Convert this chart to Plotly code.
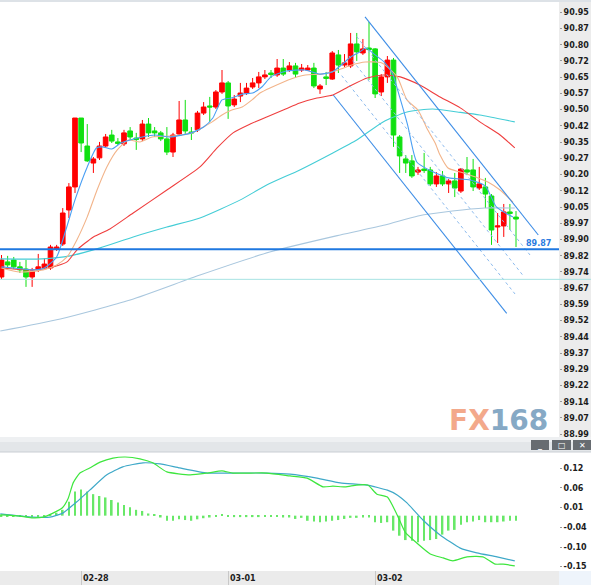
import plotly.graph_objects as go

W, H = 591, 585

# hourly candles, 02-27 11:00 .. 03-02 23:00 (index = hour number)
CANDLE_IDX = list(range(85))

OPEN = [
    89.721, 89.791, 89.800, 89.768, 89.758, 89.721, 89.754, 89.763, 89.763, 89.851,
    89.874, 90.032, 90.139, 90.459, 90.329, 90.250, 90.274, 90.329, 90.380, 90.348,
    90.339, 90.399, 90.366, 90.362, 90.431, 90.399, 90.390, 90.362, 90.301, 90.385,
    90.450, 90.394, 90.404, 90.482, 90.515, 90.510, 90.580, 90.622, 90.520, 90.561,
    90.575, 90.603, 90.622, 90.650, 90.668, 90.659, 90.691, 90.682, 90.701, 90.682,
    90.682, 90.691, 90.594, 90.650, 90.640, 90.752, 90.705, 90.701, 90.803, 90.761,
    90.784, 90.780, 90.580, 90.650, 90.728, 90.371, 90.269, 90.260, 90.208, 90.222,
    90.218, 90.153, 90.190, 90.153, 90.167, 90.120, 90.218, 90.218, 90.134, 90.139,
    90.097, 89.953, 89.958, 90.023, 89.999,
]
HIGH = [
    89.823, 89.819, 89.814, 89.791, 89.800, 89.763, 89.828, 89.809, 89.870, 89.870,
    90.041, 90.157, 90.459, 90.459, 90.431, 90.278, 90.348, 90.385, 90.404, 90.366,
    90.404, 90.417, 90.390, 90.450, 90.459, 90.417, 90.399, 90.417, 90.390, 90.538,
    90.543, 90.417, 90.492, 90.533, 90.557, 90.589, 90.682, 90.631, 90.566, 90.622,
    90.622, 90.645, 90.673, 90.682, 90.682, 90.733, 90.733, 90.719, 90.715, 90.710,
    90.705, 90.715, 90.617, 90.673, 90.770, 90.775, 90.756, 90.854, 90.854, 90.826,
    90.905, 90.784, 90.663, 90.747, 90.738, 90.380, 90.287, 90.287, 90.232, 90.297,
    90.232, 90.208, 90.213, 90.176, 90.204, 90.227, 90.278, 90.269, 90.232, 90.181,
    90.106, 90.018, 90.060, 90.060, 90.027,
]
LOW = [
    89.712, 89.763, 89.758, 89.740, 89.675, 89.675, 89.744, 89.754, 89.754, 89.842,
    89.865, 89.995, 90.111, 90.301, 90.255, 90.204, 90.264, 90.320, 90.343, 90.334,
    90.329, 90.357, 90.311, 90.352, 90.371, 90.371, 90.352, 90.287, 90.278, 90.376,
    90.380, 90.357, 90.394, 90.473, 90.441, 90.501, 90.571, 90.455, 90.510, 90.533,
    90.566, 90.594, 90.598, 90.640, 90.645, 90.650, 90.654, 90.673, 90.645, 90.673,
    90.677, 90.598, 90.571, 90.612, 90.636, 90.668, 90.696, 90.691, 90.724, 90.752,
    90.636, 90.552, 90.561, 90.622, 90.325, 90.204, 90.204, 90.181, 90.195, 90.204,
    90.143, 90.139, 90.143, 90.111, 90.092, 90.111, 90.195, 90.120, 90.125, 90.041,
    89.870, 89.879, 89.907, 89.939, 89.860,
]
CLOSE = [
    89.800, 89.777, 89.768, 89.754, 89.721, 89.749, 89.768, 89.781, 89.860, 89.860,
    90.018, 90.139, 90.459, 90.343, 90.260, 90.269, 90.329, 90.371, 90.352, 90.341,
    90.390, 90.371, 90.359, 90.431, 90.390, 90.390, 90.362, 90.301, 90.380, 90.450,
    90.399, 90.390, 90.482, 90.510, 90.510, 90.580, 90.622, 90.515, 90.547, 90.575,
    90.598, 90.622, 90.650, 90.659, 90.661, 90.691, 90.663, 90.701, 90.663, 90.691,
    90.691, 90.608, 90.608, 90.643, 90.761, 90.705, 90.715, 90.803, 90.766, 90.780,
    90.777, 90.571, 90.650, 90.728, 90.380, 90.283, 90.250, 90.190, 90.218, 90.215,
    90.153, 90.190, 90.153, 90.167, 90.134, 90.222, 90.208, 90.139, 90.153, 90.106,
    89.939, 89.958, 90.023, 90.016, 89.990,
]

# moving averages (hour index, price)
MA_FAST_X = [0, 2, 5, 7, 9, 10.5, 12, 14, 15.5, 16.5, 18, 19.5, 21, 23, 25, 27.5, 29.5, 31,
             33, 34.5, 36, 37.5, 39.5, 41, 42.5, 44, 46.5, 49.5, 52, 54, 55.5, 57, 58.5,
             59.5, 61, 62.5, 63.8, 65, 66.3, 67.8, 69.8, 73, 76.5, 79, 80.8, 83.5]
MA_FAST_Y = [89.768, 89.763, 89.754, 89.763, 89.814, 89.939, 90.079, 90.232, 90.320, 90.325,
             90.315, 90.343, 90.357, 90.371, 90.380, 90.371, 90.380, 90.390, 90.417, 90.459,
             90.543, 90.552, 90.571, 90.575, 90.603, 90.650, 90.677, 90.682, 90.663, 90.673,
             90.705, 90.742, 90.766, 90.784, 90.752, 90.719, 90.668, 90.557, 90.427, 90.255,
             90.218, 90.181, 90.171, 90.143, 90.046, 89.999]

MA_MID_X = [0, 3, 6.8, 9, 10.7, 12.3, 14, 15.6, 17.2, 18.9, 20.7, 22.6, 24.6, 28.3, 31.1,
            32.7, 34.4, 36, 37.6, 39.3, 40.9, 42.2, 44.2, 46.8, 49.6, 52.3, 55, 57.2, 59.4,
            62.1, 64.6, 66.2, 68, 69.6, 70.8, 71.6, 72.9, 74.9, 77.8, 79.4, 81.4, 83.5]
MA_MID_Y = [89.763, 89.744, 89.754, 89.777, 89.814, 89.893, 90.000, 90.125, 90.232, 90.311,
            90.357, 90.348, 90.371, 90.376, 90.390, 90.413, 90.441, 90.473, 90.496, 90.510,
            90.543, 90.575, 90.603, 90.636, 90.659, 90.663, 90.682, 90.705, 90.719, 90.715,
            90.650, 90.543, 90.496, 90.403, 90.343, 90.287, 90.227, 90.208, 90.181, 90.162,
            90.125, 90.069]

MA_SLOW_X = [-0.2, 4.7, 7.9, 10.7, 12.3, 15, 17.7, 21.5, 27, 32.4, 35.2, 37.8, 40.6, 43.3,
             46, 48.7, 51.5, 54.1, 56.9, 59.7, 62.3, 65.1, 68.3, 71.6, 74.9, 78.1, 81.4, 83.8]
MA_SLOW_Y = [89.763, 89.754, 89.763, 89.791, 89.846, 89.907, 89.944, 90.018, 90.125, 90.232,
             90.320, 90.390, 90.431, 90.464, 90.496, 90.529, 90.552, 90.566, 90.608, 90.645,
             90.659, 90.650, 90.612, 90.557, 90.506, 90.441, 90.380, 90.320]

MA_60_X = [-0.2, 6.6, 11.2, 16.1, 21.5, 27, 32.4, 39, 43.3, 48.7, 54.1, 58, 62.3, 66.2,
           70.4, 74.4, 78.1, 83.8]
MA_60_Y = [89.805, 89.805, 89.819, 89.856, 89.907, 89.953, 89.995, 90.079, 90.148, 90.218,
           90.297, 90.357, 90.441, 90.487, 90.501, 90.487, 90.473, 90.441]

MA_200_X = [-0.2, 9.6, 21, 32.4, 43.8, 55.3, 62.6, 68, 73.6, 78.9, 83.8]
MA_200_Y = [89.470, 89.526, 89.614, 89.730, 89.837, 89.916, 89.962, 90.004, 90.027, 90.041,
            90.041]

# horizontal levels
LEVEL_BLUE = 89.85
LEVEL_BLUE_TEXT = "89.87"
LEVEL_CYAN = 89.71

# descending channel: (x0, y0, x1, y1), outer lines solid, inner dotted
CHANNEL_SOLID = [
    (59.35, 90.929, 87.64, 89.916),
    (54.17, 90.566, 82.48, 89.552),
]
CHANNEL_DOTTED = [
    (57.99, 90.837, 86.29, 89.823),
    (56.73, 90.747, 85.09, 89.730),
    (55.54, 90.656, 83.84, 89.642),
]

# MACD panel
MACD_X = [-0.2, 3, 5.1, 6.8, 8.4, 9.9, 10.9, 11.7, 12.8, 14.4, 16.1, 18.2, 20.2, 22.6, 24.7,
          27, 30.8, 33.6, 36, 37.8, 43.3, 47.1, 49.9, 52.5, 54.1, 56.1, 58, 59.8, 61.3, 63,
          64.6, 65.9, 67.8, 70, 72.1, 73.7, 76, 78.6, 80.6, 81.9, 83.8]
MACD_Y = [-0.010, -0.013, -0.018, -0.016, -0.005, 0.009, 0.036, 0.078, 0.105, 0.119, 0.135,
          0.146, 0.149, 0.144, 0.133, 0.108, 0.100, 0.105, 0.111, 0.105, 0.105, 0.097, 0.091,
          0.067, 0.069, 0.067, 0.072, 0.072, 0.047, 0.039, -0.010, -0.057, -0.087, -0.117,
          -0.128, -0.136, -0.125, -0.125, -0.145, -0.145, -0.150]
SIGNAL_X = [-0.2, 5.1, 7.9, 10, 12.3, 14.4, 17.2, 19.8, 23.1, 25.9, 29.1, 33.6, 37.8, 43.3,
            47.1, 51.5, 55.3, 59.7, 63, 64.6, 66.2, 68.8, 71.6, 74.9, 77.6, 80.9, 83.8]
SIGNAL_Y = [-0.007, -0.016, -0.016, -0.005, 0.026, 0.058, 0.100, 0.122, 0.133, 0.130, 0.119,
            0.105, 0.105, 0.105, 0.102, 0.091, 0.078, 0.072, 0.058, 0.045, 0.023, -0.024,
            -0.065, -0.101, -0.114, -0.125, -0.136]
HIST_BASE = -0.012
HIST = [
    -0.002, -0.002, -0.003, -0.003, -0.004, -0.004, -0.003, -0.002, 0.003, 0.008,
    0.016, 0.038, 0.066, 0.072, 0.066, 0.059, 0.054, 0.050, 0.043, 0.036,
    0.029, 0.023, 0.016, 0.013, 0.006, 0.002, -0.005, -0.014, -0.014, -0.010,
    -0.012, -0.014, -0.010, -0.007, -0.005, -0.003, 0.004, -0.004, -0.004, -0.004,
    -0.004, -0.004, -0.004, -0.004, -0.004, -0.004, -0.005, -0.005, -0.009, -0.006,
    -0.014, -0.016, -0.018, -0.016, -0.014, -0.012, -0.009, -0.006, -0.006, -0.005,
    -0.005, -0.018, -0.020, -0.018, -0.041, -0.055, -0.067, -0.069, -0.073, -0.069,
    -0.067, -0.064, -0.052, -0.041, -0.039, -0.025, -0.018, -0.016, -0.012, -0.018,
    -0.018, -0.018, -0.016, -0.014, -0.014,
]

# axes
PRICE_TICK_TOP = 90.95
PRICE_TICK_STEP = 0.07535
PRICE_TICKS = ["90.95", "90.87", "90.80", "90.72", "90.65", "90.57", "90.50", "90.42",
               "90.35", "90.27", "90.20", "90.12", "90.05", "89.97", "89.90", "89.82",
               "89.74", "89.67", "89.59", "89.52", "89.44", "89.37", "89.29", "89.22",
               "89.14", "89.07", "88.99"]
MACD_TICK_TOP = 0.118
MACD_TICK_STEP = 0.054
MACD_TICKS = ["0.12", "0.06", "0.01", "-0.04", "-0.10", "-0.15"]
DAY_TICK_POS = [13, 37, 61]
DAY_LABELS = ["02-28", "03-01", "03-02"]

X_RANGE = [-0.245, 91.02]
PRICE_RANGE = [88.978, 91.007]
MACD_RANGE = [-0.1611, 0.1627]

PLOT_RIGHT = 559
MAIN_BOTTOM = 437
MACD_TOP = 452
MACD_BOTTOM = 570


def px_x(v):
    return v / W


def px_y(v):
    return 1 - v / H


FONT = "DejaVu Sans"
AXIS_FONT = dict(family=FONT, size=8, color="#1c1c1c", weight="bold")

fig = go.Figure()

fig.add_trace(go.Candlestick(
    x=CANDLE_IDX, open=OPEN, high=HIGH, low=LOW, close=CLOSE,
    increasing=dict(line=dict(color="#ff0000", width=1), fillcolor="#ff0000"),
    decreasing=dict(line=dict(color="#10e010", width=1), fillcolor="#10e010"),
    whiskerwidth=0, showlegend=False, hoverinfo="skip",
    xaxis="x", yaxis="y",
))

ma_specs = [
    (MA_200_X, MA_200_Y, "#a9c7de"),
    (MA_60_X, MA_60_Y, "#44cdd6"),
    (MA_SLOW_X, MA_SLOW_Y, "#ef3e3e"),
    (MA_MID_X, MA_MID_Y, "#f2b48a"),
    (MA_FAST_X, MA_FAST_Y, "#4a9ff3"),
]
for xs, ys, color in ma_specs:
    fig.add_trace(go.Scatter(
        x=xs, y=ys, mode="lines", line=dict(color=color, width=1.1, shape="spline", smoothing=0.6),
        showlegend=False, hoverinfo="skip", xaxis="x", yaxis="y",
    ))

for x0, y0, x1, y1 in CHANNEL_SOLID:
    fig.add_trace(go.Scatter(
        x=[x0, x1], y=[y0, y1], mode="lines", line=dict(color="#3d8de6", width=1.1),
        showlegend=False, hoverinfo="skip", xaxis="x", yaxis="y",
    ))
for x0, y0, x1, y1 in CHANNEL_DOTTED:
    fig.add_trace(go.Scatter(
        x=[x0, x1], y=[y0, y1], mode="lines", line=dict(color="#8dbbee", width=1, dash="dot"),
        showlegend=False, hoverinfo="skip", xaxis="x", yaxis="y",
    ))

fig.add_trace(go.Scatter(
    x=X_RANGE, y=[LEVEL_BLUE, LEVEL_BLUE], mode="lines", line=dict(color="#1f78e0", width=2),
    showlegend=False, hoverinfo="skip", xaxis="x", yaxis="y",
))

# MACD
fig.add_trace(go.Bar(
    x=CANDLE_IDX, y=HIST, base=HIST_BASE, width=0.28,
    marker=dict(color="#68e868", line=dict(width=0)),
    showlegend=False, hoverinfo="skip", xaxis="x2", yaxis="y2",
))
fig.add_trace(go.Scatter(
    x=SIGNAL_X, y=SIGNAL_Y, mode="lines", line=dict(color="#3ea8c8", width=1.2, shape="spline", smoothing=0.5),
    showlegend=False, hoverinfo="skip", xaxis="x2", yaxis="y2",
))
fig.add_trace(go.Scatter(
    x=MACD_X, y=MACD_Y, mode="lines", line=dict(color="#3ee63e", width=1.2, shape="spline", smoothing=0.5),
    showlegend=False, hoverinfo="skip", xaxis="x2", yaxis="y2",
))

price_tickvals = [PRICE_TICK_TOP - k * PRICE_TICK_STEP for k in range(len(PRICE_TICKS))]
macd_tickvals = [MACD_TICK_TOP - k * MACD_TICK_STEP for k in range(len(MACD_TICKS))]

x_dom = [0, px_x(PLOT_RIGHT)]
shapes = [
    # price axis column
    dict(type="rect", xref="paper", yref="paper", x0=px_x(PLOT_RIGHT), x1=1,
         y0=px_y(MAIN_BOTTOM), y1=1, fillcolor="#ececec", line=dict(width=0), layer="below"),
    # separator bar between panels
    dict(type="rect", xref="paper", yref="paper", x0=0, x1=1,
         y0=px_y(MACD_TOP), y1=px_y(MAIN_BOTTOM), fillcolor="#e3e6e9", line=dict(width=0), layer="below"),
    dict(type="rect", xref="paper", yref="paper", x0=0, x1=1,
         y0=px_y(MAIN_BOTTOM + 5), y1=px_y(MAIN_BOTTOM), fillcolor="#eef0f2", line=dict(width=0), layer="below"),
    dict(type="line", xref="paper", yref="paper", x0=0, x1=1,
         y0=px_y(MACD_TOP), y1=px_y(MACD_TOP), line=dict(color="#c9ced3", width=1)),
    # date axis row
    dict(type="rect", xref="paper", yref="paper", x0=0, x1=px_x(PLOT_RIGHT),
         y0=0, y1=px_y(MACD_BOTTOM + 1), fillcolor="#ebebeb", line=dict(width=0), layer="below"),
    dict(type="rect", xref="paper", yref="paper", x0=px_x(PLOT_RIGHT), x1=1,
         y0=0, y1=px_y(MACD_BOTTOM + 1), fillcolor="#eef4fb", line=dict(width=0), layer="below"),
    # top border
    dict(type="rect", xref="paper", yref="paper", x0=0, x1=1,
         y0=px_y(2), y1=1, fillcolor="#dde2e7", line=dict(width=0), layer="below"),
    # light cyan level runs through the axis column too
    dict(type="line", xref="paper", yref="y", x0=0, x1=1, y0=LEVEL_CYAN, y1=LEVEL_CYAN,
         line=dict(color="#a6e3e3", width=1)),
]

# window buttons on the separator bar
buttons = [(531, 549, "_"), (552, 571, "□"), (573, 591, "✕")]
annotations = []
for bx0, bx1, glyph in buttons:
    shapes.append(dict(type="rect", xref="paper", yref="paper", x0=px_x(bx0), x1=px_x(bx1),
                       y0=px_y(450), y1=px_y(440), fillcolor="#676c71", line=dict(width=0)))
    annotations.append(dict(xref="paper", yref="paper", x=px_x((bx0 + bx1) / 2), y=px_y(445),
                            text=glyph, showarrow=False, xanchor="center", yanchor="middle",
                            font=dict(family=FONT, size=8, color="white", weight="bold")))

for pos, label in zip(DAY_TICK_POS, DAY_LABELS):
    annotations.append(dict(xref="x2", yref="paper", x=pos, y=px_y(578), text=label,
                            showarrow=False, xanchor="left", yanchor="middle", font=AXIS_FONT))

annotations.append(dict(xref="paper", yref="paper", x=px_x(553), y=px_y(243), text=LEVEL_BLUE_TEXT,
                        showarrow=False, xanchor="right", yanchor="middle",
                        font=dict(family=FONT, size=8, color="#2b7be0", weight="bold")))

annotations.append(dict(
    xref="paper", yref="paper", x=px_x(498), y=px_y(420),
    text="<span style='color:#f3a98b'>FX</span><span style='color:#86a9c5'>168</span>",
    showarrow=False, xanchor="center", yanchor="middle",
    font=dict(family=FONT, size=28, weight="bold"),
))

fig.update_layout(
    width=W, height=H,
    margin=dict(l=0, r=0, t=0, b=0),
    paper_bgcolor="white",
    plot_bgcolor="rgba(0,0,0,0)",
    showlegend=False,
    boxgap=0.13, boxgroupgap=0.13,
    xaxis=dict(domain=x_dom, range=X_RANGE, anchor="y", showticklabels=False, showgrid=False,
               zeroline=False, showline=False, ticks="", rangeslider=dict(visible=False),
               fixedrange=True),
    yaxis=dict(domain=[px_y(MAIN_BOTTOM), 1], range=PRICE_RANGE, anchor="x", side="right",
               tickmode="array", tickvals=price_tickvals, ticktext=PRICE_TICKS,
               ticks="outside", ticklen=2, tickcolor="#9a9a9a", tickfont=AXIS_FONT,
               showgrid=False, zeroline=False, showline=False, automargin=False),
    xaxis2=dict(domain=x_dom, range=X_RANGE, anchor="y2", showticklabels=False, showgrid=False,
                zeroline=False, showline=False, tickmode="array", tickvals=DAY_TICK_POS,
                ticks="outside", ticklen=14, tickcolor="#c8c8c8", automargin=False),
    yaxis2=dict(domain=[px_y(MACD_BOTTOM), px_y(MACD_TOP)], range=MACD_RANGE, anchor="x2",
                side="right", tickmode="array", tickvals=macd_tickvals, ticktext=MACD_TICKS,
                ticks="outside", ticklen=2, tickcolor="#9a9a9a", tickfont=AXIS_FONT,
                showgrid=False, zeroline=False, showline=False, automargin=False),
    shapes=shapes,
    annotations=annotations,
)

fig.write_html("out.html", config={"displayModeBar": False},
               post_script="document.body.style.margin='0';")
